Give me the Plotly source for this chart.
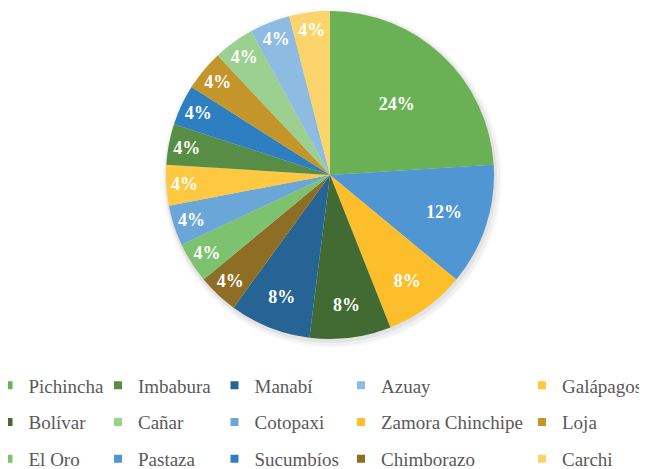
import plotly.graph_objects as go

# Data in slice order (clockwise from 12 o'clock)
provinces = ["Pichincha", "Pastaza", "Zamora Chinchipe", "Bolívar", "Manabí",
             "Chimborazo", "El Oro", "Cotopaxi", "Galápagos", "Imbabura",
             "Sucumbíos", "Loja", "Cañar", "Azuay", "Carchi"]
counts = [6, 3, 2, 2, 2, 1, 1, 1, 1, 1, 1, 1, 1, 1, 1]
colors = ["#6AB155", "#4F96D2", "#FDBE2B", "#416B33", "#276496",
          "#8E6D24", "#7DC26F", "#6BA6D8", "#FEC841", "#578D44",
          "#2E7EC2", "#C4952A", "#9CD090", "#8DBBE1", "#FBD56C"]

# Legend layout (columns as shown in the reference)
legend_columns = [
    ["Pichincha", "Bolívar", "El Oro"],
    ["Imbabura", "Cañar", "Pastaza"],
    ["Manabí", "Cotopaxi", "Sucumbíos"],
    ["Azuay", "Zamora Chinchipe", "Chimborazo"],
    ["Galápagos", "Loja", "Carchi"],
]

W, H = 647, 469
OFF = 8  # page body margin offset
SERIF = "Liberation Serif, DejaVu Serif, serif"
color_of = dict(zip(provinces, colors))

# pie geometry (figure pixels)
CX, CY, R = 330 - OFF, 175 - OFF, 164

fig = go.Figure()
fig.add_trace(go.Pie(
    labels=provinces, values=counts, sort=False, direction="clockwise",
    rotation=0, marker=dict(colors=colors, line=dict(width=0)),
    texttemplate="%{percent:.0%}", textposition="inside",
    insidetextorientation="horizontal",
    textfont=dict(family=SERIF, size=18, color="white", weight="bold"),
    showlegend=False, hoverinfo="skip",
    domain=dict(x=[(CX - R) / W, (CX + R) / W],
                y=[(H - CY - R) / H, (H - CY + R) / H]),
))

legend_ids = ["legend", "legend2", "legend3", "legend4", "legend5"]
legend_left = [12.5 - 24, 126 - 28, 242.5 - 28, 369 - 28, 555 - 33]
for lid, col in zip(legend_ids, legend_columns):
    for name in col:
        fig.add_trace(go.Scatter(
            x=[None], y=[None], mode="markers", name=name,
            marker=dict(symbol="square", size=8, color=color_of[name]),
            legend=lid, legendgroup=name, hoverinfo="skip",
        ))

layout_legends = {}
for lid, lx in zip(legend_ids, legend_left):
    layout_legends[lid] = dict(
        x=(lx - OFF) / W, xanchor="left", y=1 - 358.5 / H, yanchor="top",
        orientation="v", bgcolor="rgba(0,0,0,0)", borderwidth=0,
        tracegroupgap=9, itemclick=False, itemdoubleclick=False,
        font=dict(family=SERIF, size=19, color="#595959"),
    )

# soft shadow behind the pie
shapes = []
for grow, dx, dy, a in [(6, 2, 3, 0.025), (4, 2, 3, 0.035), (2, 1, 2, 0.05)]:
    shapes.append(dict(
        type="circle", xref="paper", yref="paper", layer="below",
        x0=(CX - R - grow + dx) / W, x1=(CX + R + grow + dx) / W,
        y0=(H - CY - dy - R - grow) / H, y1=(H - CY - dy + R + grow) / H,
        fillcolor=f"rgba(0,0,0,{a})", line=dict(width=0),
    ))

fig.update_layout(
    width=W, height=H,
    margin=dict(l=0, r=0, t=0, b=0, autoexpand=False),
    paper_bgcolor="white", plot_bgcolor="white",
    font=dict(family=SERIF),
    xaxis=dict(visible=False), yaxis=dict(visible=False),
    shapes=shapes,
    **layout_legends,
)
fig.write_html("out.html")
